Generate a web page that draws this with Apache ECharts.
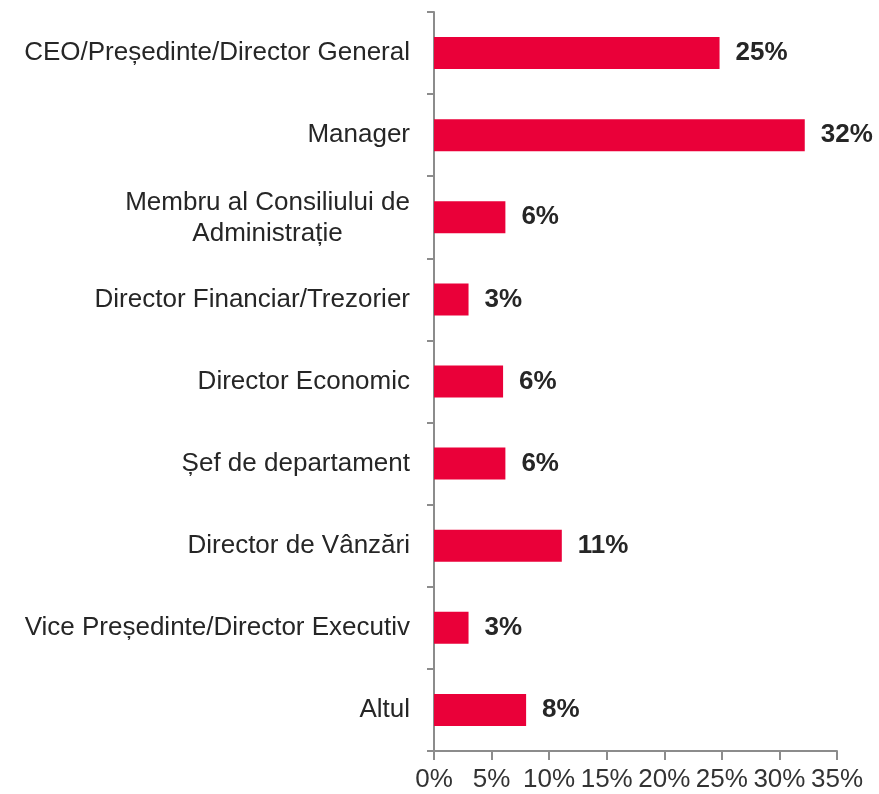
<!DOCTYPE html>
<html>
<head>
<meta charset="utf-8">
<script src="https://cdn.jsdelivr.net/npm/echarts@6/dist/echarts.min.js"></script>
<style>
html,body{margin:0;padding:0;background:#fff;}
#chart{width:879px;height:794px;}
</style>
</head>
<body>
<div id="chart"></div>
<script>
var categories = [
  'CEO/Președinte/Director General',
  'Manager',
  'Membru al Consiliului de\nAdministrație',
  'Director Financiar/Trezorier',
  'Director Economic',
  'Șef de departament',
  'Director de Vânzări',
  'Vice Președinte/Director Executiv',
  'Altul'
];
var values = [24.8, 32.2, 6.2, 3.0, 6.0, 6.2, 11.1, 3.0, 8.0];
var valueLabels = ['25%', '32%', '6%', '3%', '6%', '6%', '11%', '3%', '8%'];
var xTicks = [0, 5, 10, 15, 20, 25, 30, 35];

var chart = echarts.init(document.getElementById('chart'), null, {renderer: 'canvas'});
var font = 'Liberation Sans, Arial, sans-serif';
chart.setOption({
  animation: false,
  backgroundColor: '#ffffff',
  grid: {left: 434, right: 42, top: 12, bottom: 43, containLabel: false},
  xAxis: {
    type: 'value',
    min: xTicks[0],
    max: xTicks[xTicks.length - 1],
    interval: 5,
    splitLine: {show: false},
    axisLine: {show: true, lineStyle: {color: '#8c8c8c', width: 2}},
    axisTick: {show: true, length: 9, lineStyle: {color: '#8c8c8c', width: 2}},
    axisLabel: {
      margin: 16,
      fontFamily: font,
      fontSize: 26,
      color: '#333333',
      formatter: function (v) { return v + '%'; }
    }
  },
  yAxis: {
    type: 'category',
    data: categories,
    inverse: true,
    axisLine: {show: true, lineStyle: {color: '#8c8c8c', width: 2}},
    axisTick: {show: true, length: 7, lineStyle: {color: '#8c8c8c', width: 2}},
    axisLabel: {
      margin: 24,
      fontFamily: font,
      fontSize: 26,
      color: '#262626',
      lineHeight: 31,
      align: 'right',
      formatter: function (v) {
        if (v.indexOf('\n') < 0) { return v; }
        return v.split('\n').map(function (s) { return '{c|' + s + '}'; }).join('\n');
      },
      rich: {
        c: {
          width: 285,
          align: 'center',
          fontFamily: font,
          fontSize: 26,
          lineHeight: 31,
          color: '#262626',
          padding: [3, 0, 0, 0]
        }
      }
    }
  },
  series: [{
    type: 'bar',
    data: values,
    barWidth: 32,
    itemStyle: {color: '#EA0039'},
    label: {
      show: true,
      position: 'right',
      distance: 16,
      fontFamily: font,
      fontSize: 26,
      fontWeight: 'bold',
      color: '#262626',
      formatter: function (p) { return valueLabels[p.dataIndex]; }
    }
  }]
});
</script>
</body>
</html>
